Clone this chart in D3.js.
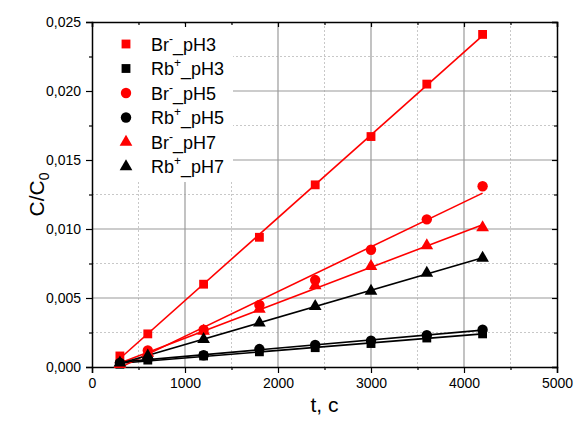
<!DOCTYPE html>
<html>
<head>
<meta charset="utf-8">
<script src="https://cdn.jsdelivr.net/npm/d3@7"></script>
<style>
  html, body { margin: 0; padding: 0; background: #fff; }
  svg { display: block; font-family: "Liberation Sans", Arial, sans-serif; }
</style>
</head>
<body>
<svg id="chart" width="574" height="423"></svg>
<script>
// Sampling times, s
const times = [300, 600, 1200, 1800, 2400, 3000, 3600, 4200];

// Relative concentration C/C0 per series
const brPH3 = [0.0008, 0.0024, 0.0060, 0.0094, 0.0132, 0.0167, 0.0205, 0.0241];
const rbPH3 = [0.0002, 0.0005, 0.0008, 0.0011, 0.0014, 0.0017, 0.0021, 0.0024];
const brPH5 = [0.0003, 0.0012, 0.0027, 0.0045, 0.0063, 0.0085, 0.0107, 0.0131];
const rbPH5 = [0.0003, 0.0006, 0.00085, 0.0013, 0.0016, 0.0019, 0.0023, 0.0027];
const brPH7 = [0.0002, 0.0010, 0.0026, 0.0042, 0.0059, 0.0073, 0.0088, 0.0101];
const rbPH7 = [0.0003, 0.0008, 0.0020, 0.0032, 0.0044, 0.0055, 0.0068, 0.0079];

// Legend names: ion, charge, pH suffix
const seriesIons = ["Br", "Rb", "Br", "Rb", "Br", "Rb"];
const seriesCharges = ["-", "+", "-", "+", "-", "+"];
const seriesSuffix = ["_pH3", "_pH3", "_pH5", "_pH5", "_pH7", "_pH7"];
const seriesValues = [brPH3, rbPH3, brPH5, rbPH5, brPH7, rbPH7];
const seriesColors = ["#ff0000", "#000000", "#ff0000", "#000000", "#ff0000", "#000000"];
const seriesShapes = ["square", "square", "circle", "circle", "triangle", "triangle"];

// Axis ticks
const xTicks = [0, 1000, 2000, 3000, 4000, 5000];
const xMinor = [500, 1500, 2500, 3500, 4500];
const yTicks = [0, 0.005, 0.010, 0.015, 0.020, 0.025];
const yMinor = [0.0025, 0.0075, 0.0125, 0.0175, 0.0225];

const svg = d3.select("#chart");
const pLeft = 92, pRight = 557, pTop = 22, pBottom = 367;

const x = d3.scaleLinear().domain([0, 5000]).range([pLeft, pRight]);
const y = d3.scaleLinear().domain([0, 0.025]).range([pBottom, pTop]);

// Grid: dotted minor lines, solid major lines
const grid = svg.append("g");
grid.selectAll(".xm").data(xMinor).join("line")
  .attr("x1", d => x(d)).attr("x2", d => x(d)).attr("y1", pTop).attr("y2", pBottom)
  .attr("stroke", "#c8c8c8").attr("stroke-width", 1).attr("stroke-dasharray", "2,2");
grid.selectAll(".ym").data(yMinor).join("line")
  .attr("y1", d => y(d)).attr("y2", d => y(d)).attr("x1", pLeft).attr("x2", pRight)
  .attr("stroke", "#c8c8c8").attr("stroke-width", 1).attr("stroke-dasharray", "2,2");
grid.selectAll(".xM").data(xTicks.slice(1, -1)).join("line")
  .attr("x1", d => x(d)).attr("x2", d => x(d)).attr("y1", pTop).attr("y2", pBottom)
  .attr("stroke", "#9a9a9a").attr("stroke-width", 1.2);
grid.selectAll(".yM").data(yTicks.slice(1, -1)).join("line")
  .attr("y1", d => y(d)).attr("y2", d => y(d)).attr("x1", pLeft).attr("x2", pRight)
  .attr("stroke", "#9a9a9a").attr("stroke-width", 1.2);

// Legend background hides the grid behind it
svg.append("rect").attr("x", pLeft + 1).attr("y", 24).attr("width", 140).attr("height", 158)
  .attr("fill", "#fff");

// Axes
const fmtY = d => d3.format(".3f")(d).replace(".", ",");
const axisFont = g => g.selectAll("text").attr("font-size", 14).attr("fill", "#000")
  .attr("font-family", "Liberation Sans, Arial, sans-serif");

const xAxis = svg.append("g").attr("transform", `translate(0,${pBottom})`)
  .call(d3.axisBottom(x).tickValues(xTicks).tickFormat(d3.format("d")).tickSize(6).tickPadding(5));
xAxis.call(axisFont);
svg.append("g").attr("transform", `translate(0,${pBottom})`)
  .call(d3.axisBottom(x).tickValues(xMinor).tickFormat("").tickSize(3))
  .call(g => g.select(".domain").remove());

const yAxis = svg.append("g").attr("transform", `translate(${pLeft},0)`)
  .call(d3.axisLeft(y).tickValues(yTicks).tickFormat(fmtY).tickSize(6).tickPadding(5));
yAxis.call(axisFont);
svg.append("g").attr("transform", `translate(${pLeft},0)`)
  .call(d3.axisLeft(y).tickValues(yMinor).tickFormat("").tickSize(3))
  .call(g => g.select(".domain").remove());

// Mirrored ticks on top and right, pointing inward
svg.append("g").attr("transform", `translate(0,${pTop})`)
  .call(d3.axisTop(x).tickValues(xTicks).tickFormat("").tickSize(-5));
svg.append("g").attr("transform", `translate(0,${pTop})`)
  .call(d3.axisTop(x).tickValues(xMinor).tickFormat("").tickSize(-3))
  .call(g => g.select(".domain").remove());
svg.append("g").attr("transform", `translate(${pRight},0)`)
  .call(d3.axisRight(y).tickValues(yTicks).tickFormat("").tickSize(-5));
svg.append("g").attr("transform", `translate(${pRight},0)`)
  .call(d3.axisRight(y).tickValues(yMinor).tickFormat("").tickSize(-3))
  .call(g => g.select(".domain").remove());

svg.selectAll(".domain").attr("stroke", "#000").attr("stroke-width", 1.5);
svg.selectAll(".tick line").attr("stroke", "#000").attr("stroke-width", 1.2);

// Axis titles
svg.append("text").attr("x", (pLeft + pRight) / 2).attr("y", 412).attr("text-anchor", "middle")
  .attr("font-size", 21).text("t, c");
const yt = svg.append("text").attr("transform", `translate(44,${(pTop + pBottom) / 2}) rotate(-90)`)
  .attr("text-anchor", "middle").attr("font-size", 21);
yt.append("tspan").text("C/C");
yt.append("tspan").attr("font-size", 14).attr("dy", 5).text("0");

// Marker symbols
const symbolFor = {
  square: d3.symbol().type(d3.symbolSquare).size(78),
  circle: d3.symbol().type(d3.symbolCircle).size(85),
  triangle: d3.symbol().type(d3.symbolTriangle).size(70)
};

// Least-squares line through each series
function fit(xs, ys) {
  const mx = d3.mean(xs), my = d3.mean(ys);
  let sxy = 0, sxx = 0;
  xs.forEach((xv, i) => { sxy += (xv - mx) * (ys[i] - my); sxx += (xv - mx) ** 2; });
  const b = sxy / sxx;
  return { b, a: my - b * mx };
}

const plot = svg.append("g");
seriesValues.forEach((vals, i) => {
  const { a, b } = fit(times, vals);
  const x0 = times[0], x1 = times[times.length - 1];
  plot.append("line")
    .attr("x1", x(x0)).attr("y1", y(a + b * x0))
    .attr("x2", x(x1)).attr("y2", y(a + b * x1))
    .attr("stroke", seriesColors[i]).attr("stroke-width", 1.6);
});
seriesValues.forEach((vals, i) => {
  plot.append("g").selectAll("path").data(vals).join("path")
    .attr("d", symbolFor[seriesShapes[i]])
    .attr("transform", (d, j) => `translate(${x(times[j])},${y(d)})`)
    .attr("fill", seriesColors[i]);
});

// Legend
const legend = svg.append("g");
seriesIons.forEach((ion, i) => {
  const cy = 44 + i * 24.5;
  legend.append("path").attr("d", symbolFor[seriesShapes[i]])
    .attr("transform", `translate(126,${cy})`).attr("fill", seriesColors[i]);
  const t = legend.append("text").attr("x", 151).attr("y", cy + 6.5).attr("font-size", 18);
  t.append("tspan").text(ion);
  t.append("tspan").attr("font-size", 12).attr("dy", -8).text(seriesCharges[i]);
  t.append("tspan").attr("dy", 8).text(seriesSuffix[i]);
});
</script>
</body>
</html>
